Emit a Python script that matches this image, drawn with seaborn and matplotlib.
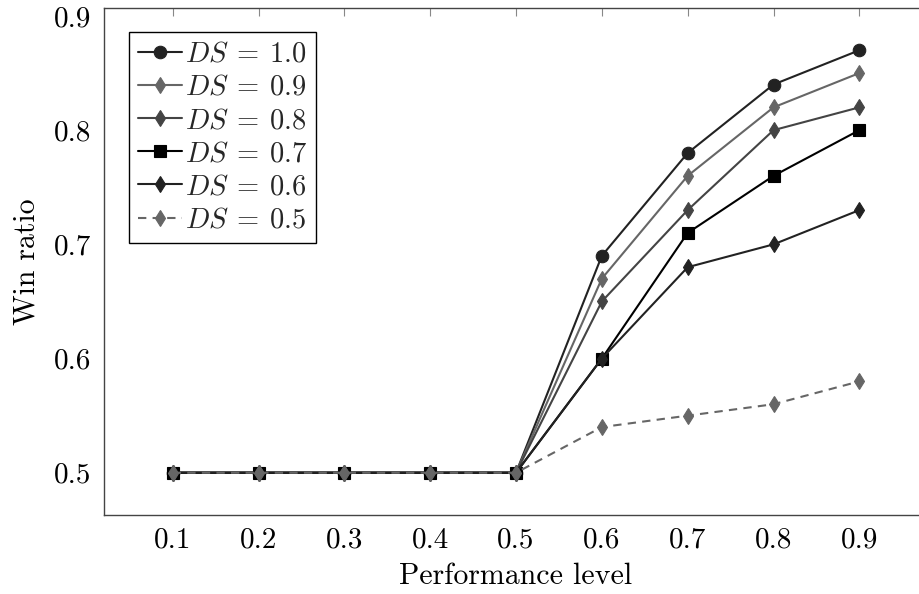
import matplotlib
matplotlib.use("Agg")
import matplotlib.pyplot as plt
import seaborn as sns
import pandas as pd

perf_levels = [0.1, 0.2, 0.3, 0.4, 0.5, 0.6, 0.7, 0.8, 0.9]
ds_labels = ["1.0", "0.9", "0.8", "0.7", "0.6", "0.5"]
ds_10 = [0.5, 0.5, 0.5, 0.5, 0.5, 0.69, 0.78, 0.84, 0.87]
ds_09 = [0.5, 0.5, 0.5, 0.5, 0.5, 0.67, 0.76, 0.82, 0.85]
ds_08 = [0.5, 0.5, 0.5, 0.5, 0.5, 0.65, 0.73, 0.80, 0.82]
ds_07 = [0.5, 0.5, 0.5, 0.5, 0.5, 0.60, 0.71, 0.76, 0.80]
ds_06 = [0.5, 0.5, 0.5, 0.5, 0.5, 0.60, 0.68, 0.70, 0.73]
ds_05 = [0.5, 0.5, 0.5, 0.5, 0.5, 0.54, 0.55, 0.56, 0.58]
x_tick_labels = ["0.1", "0.2", "0.3", "0.4", "0.5", "0.6", "0.7", "0.8", "0.9"]
y_ticks = [0.5, 0.6, 0.7, 0.8, 0.9]
y_tick_labels = ["0.5", "0.6", "0.7", "0.8", "0.9"]

series = [ds_10, ds_09, ds_08, ds_07, ds_06, ds_05]
styles = [
    dict(color="#222222", marker="o", ls="-", ms=9),
    dict(color="#666666", marker="d", ls="-", ms=8),
    dict(color="#444444", marker="d", ls="-", ms=8),
    dict(color="#000000", marker="s", ls="-", ms=8.5),
    dict(color="#222222", marker="d", ls="-", ms=8),
    dict(color="#666666", marker="d", ls=(0, (4, 3)), ms=8),
]

sns.set_theme(style="white")
plt.rcParams["font.family"] = ["serif"]
plt.rcParams["font.serif"] = ["cmr10", "DejaVu Serif"]
plt.rcParams["mathtext.fontset"] = "cm"
plt.rcParams["axes.formatter.use_mathtext"] = True

fig = plt.figure(figsize=(9.2, 5.94), dpi=100)
ax = fig.add_axes([104 / 920, 79 / 594, (928 - 104) / 920, (515 - 8) / 594])

rows = []
for lab, vals in zip(ds_labels, series):
    for xv, yv in zip(perf_levels, vals):
        rows.append({"perf": xv, "win": yv, "ds": lab})
df = pd.DataFrame(rows)

handles = []
for lab, st in zip(ds_labels, styles):
    sub = df[df["ds"] == lab]
    sns.lineplot(data=sub, x="perf", y="win", ax=ax, color=st["color"],
                 marker=st["marker"], markersize=st["ms"], linestyle=st["ls"],
                 linewidth=1.5, markeredgecolor=st["color"], markeredgewidth=0.8,
                 legend=False, estimator=None, sort=False)
    handles.append(ax.lines[-1])

leg = ax.legend(handles, [f"$DS\\:=\\:{l}$" for l in ds_labels],
                loc="upper left", bbox_to_anchor=(0.03, 0.952), fontsize=20.5,
                frameon=True, fancybox=False, edgecolor="black", framealpha=1,
                handlelength=1.55, handletextpad=0.1, labelspacing=0.24,
                borderpad=0.32, borderaxespad=0)
leg.get_frame().set_linewidth(1.0)

ax.set_xlim(0.02, 0.98)
ax.set_ylim(0.463, 0.907)
ax.set_xticks(perf_levels, x_tick_labels)
ax.set_yticks(y_ticks, y_tick_labels)
ax.tick_params(axis="both", direction="in", length=6, width=0.8, color="#888888",
               labelsize=21, top=True, right=True, pad=9, labelcolor="black")
for sp in ax.spines.values():
    sp.set_color("#444444")
    sp.set_linewidth(1.0)
ax.set_xlabel("Performance level", fontsize=21.5, labelpad=6, color="black")
ax.set_ylabel("Win ratio", fontsize=21.5, labelpad=10, color="black")
ax.grid(False)

fig.savefig("out.png", dpi=100)
